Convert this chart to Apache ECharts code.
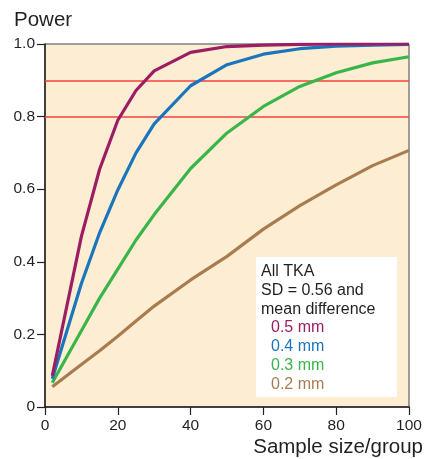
<!DOCTYPE html>
<html><head><meta charset="utf-8">
<script src="https://cdn.jsdelivr.net/npm/echarts@6/dist/echarts.min.js"></script>
<style>html,body{margin:0;padding:0;background:#fff}#c{width:424px;height:459px}</style>
</head><body><div id="c"></div>
<script>
var sampleSizes = [2, 10, 15, 20, 25, 30, 40, 50, 60, 70, 80, 90, 100];
var power05 = [0.086, 0.47, 0.655, 0.79, 0.872, 0.926, 0.977, 0.993, 0.997, 0.999, 1.0, 1.0, 1.0];
var power04 = [0.078, 0.34, 0.48, 0.598, 0.70, 0.78, 0.885, 0.943, 0.972, 0.987, 0.994, 0.997, 0.999];
var power03 = [0.067, 0.21, 0.30, 0.38, 0.46, 0.53, 0.657, 0.755, 0.828, 0.883, 0.921, 0.948, 0.965];
var power02 = [0.056, 0.117, 0.155, 0.195, 0.237, 0.278, 0.35, 0.415, 0.49, 0.555, 0.612, 0.665, 0.707];
var refLines = [0.8, 0.9];
var legendTitle = ["All TKA", "SD = 0.56 and", "mean difference"];
var legendItems = ["0.5 mm", "0.4 mm", "0.3 mm", "0.2 mm"];
var colors = ["#9c1d63", "#1b75bc", "#3ab54a", "#a97c50"];
var seriesData = [power05, power04, power03, power02];

var font = "Liberation Sans, Arial, sans-serif";
function pairs(arr){ return sampleSizes.map(function(n,i){ return [n, arr[i]]; }); }

var series = seriesData.map(function(arr, i){
  return {
    type: 'line', data: pairs(arr), symbol: 'none', z: 5 - i + 2,
    lineStyle: { color: colors[i], width: 3.2 }, itemStyle: { color: colors[i] }
  };
});
series.push({
  type: 'line', data: [], z: 1,
  markLine: {
    silent: true, symbol: 'none', label: { show: false },
    lineStyle: { color: '#f2433b', width: 1.5, type: 'solid' },
    data: refLines.map(function(v){ return { yAxis: v }; })
  }
});

var gText = [];
legendTitle.forEach(function(t, i){
  gText.push({ type: 'text', left: 261, top: 264 + i * 18.7,
    style: { text: t, fill: '#231f20', font: '16px ' + font } });
});
legendItems.forEach(function(t, i){
  gText.push({ type: 'text', left: 271, top: 320 + i * 18.7,
    style: { text: t, fill: colors[i], font: '16px ' + font } });
});

var chart = echarts.init(document.getElementById('c'), null, { renderer: 'canvas' });
chart.setOption({
  animation: false,
  backgroundColor: '#ffffff',
  grid: { left: 45, right: 15, top: 44, bottom: 52, show: true, outerBoundsMode: 'none', containLabel: false,
    backgroundColor: '#fdeed3', borderColor: '#444', borderWidth: 1 },
  xAxis: {
    type: 'value', min: 0, max: 100, interval: 20,
    name: 'Sample size/group', nameLocation: 'end', nameGap: 0,
    nameTextStyle: { fontFamily: font, fontSize: 20.5, color: '#231f20', align: 'right', verticalAlign: 'top', padding: [30, -14, 0, 0] },
    axisLine: { show: true, lineStyle: { color: '#231f20', width: 1.5 } },
    axisTick: { show: true, inside: false, length: 8, lineStyle: { color: '#231f20', width: 1.2 } },
    axisLabel: { fontFamily: font, fontSize: 15.5, color: '#231f20', margin: 11 },
    splitLine: { show: false }
  },
  yAxis: {
    type: 'value', min: 0, max: 1, interval: 0.2,
    name: 'Power', nameLocation: 'end', nameGap: 13,
    nameTextStyle: { fontFamily: font, fontSize: 20.5, color: '#231f20', align: 'left', padding: [0, 0, 0, -31] },
    axisLine: { show: true, lineStyle: { color: '#231f20', width: 1.5 } },
    axisTick: { show: true, inside: false, length: 8, lineStyle: { color: '#231f20', width: 1.2 } },
    axisLabel: { fontFamily: font, fontSize: 15.5, color: '#231f20', margin: 10,
      formatter: function(v){ return v === 0 ? '0' : v.toFixed(1); } },
    splitLine: { show: false }
  },
  series: series,
  graphic: [{ type: 'rect', shape: { x: 256, y: 257, width: 141, height: 140 },
    style: { fill: '#ffffff' }, z: 100 }].concat(gText.map(function(g){ g.z = 101; return g; }))
});
</script></body></html>
